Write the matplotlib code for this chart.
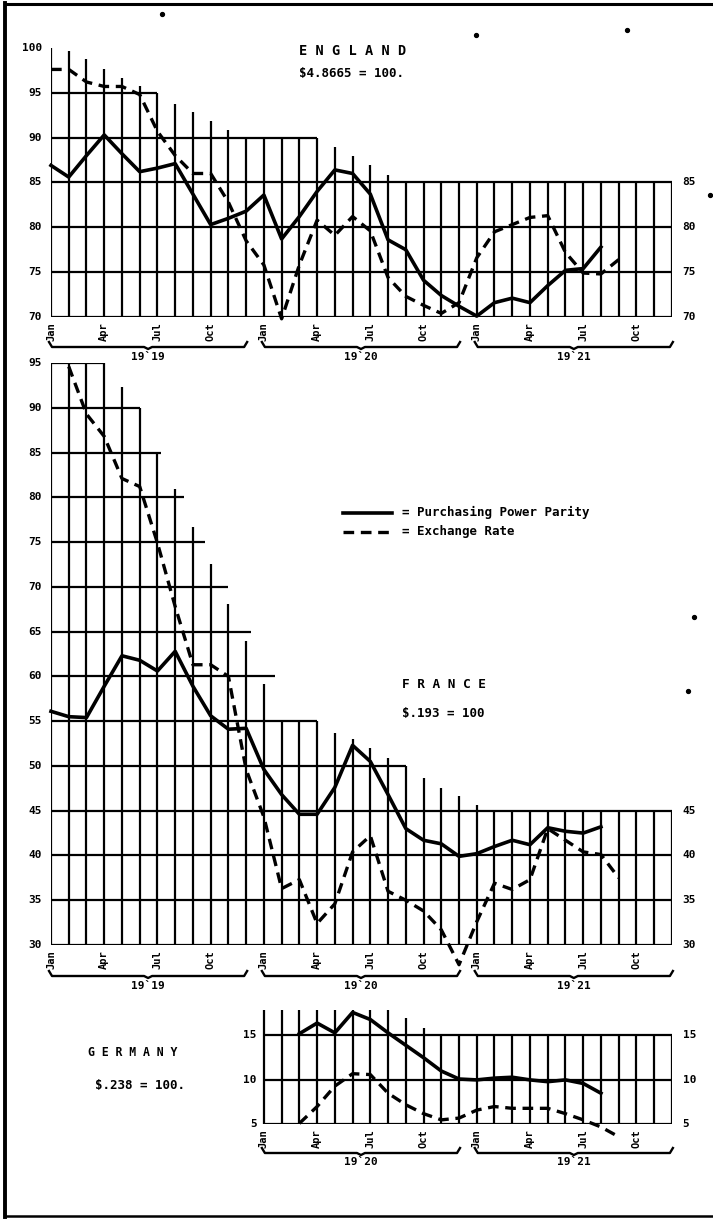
import matplotlib
matplotlib.use("Agg")
import matplotlib.pyplot as plt
from matplotlib.lines import Line2D
from matplotlib import transforms

# ---------------- data (month index 0 = Jan 1919 ... 35 = Dec 1921) ----------------
quarter_labels = ["Jan", "Apr", "Jul", "Oct"]
years = ["19`19", "19`20", "19`21"]

eng_title = "E N G L A N D"
eng_par = "\\$4.8665 = 100."
eng_ppp_start = 0
eng_ppp = [86.9, 85.6, 88.0, 90.3, 88.2, 86.2, 86.6, 87.1, 83.7, 80.3, 81.0, 81.8,
           83.6, 78.7, 81.2, 84.0, 86.4, 86.0, 83.7, 78.6, 77.5, 74.1, 72.4, 71.2,
           70.1, 71.6, 72.1, 71.6, 73.5, 75.2, 75.4, 77.8]
eng_exch_start = 0
eng_exch = [97.6, 97.6, 96.2, 95.7, 95.7, 94.8, 90.7, 88.0, 86.0, 86.0, 82.8, 78.5,
            75.8, 69.8, 75.8, 80.8, 79.1, 81.2, 79.6, 74.4, 72.3, 71.3, 70.4, 71.6,
            76.6, 79.5, 80.3, 81.1, 81.3, 77.2, 74.9, 74.8, 76.4]
eng_left_ticks = [100, 95, 90, 85, 80, 75, 70]
eng_right_ticks = [85, 80, 75, 70]

fra_title = "F R A N C E"
fra_par = "\\$.193 = 100"
fra_ppp_start = 0
fra_ppp = [56.1, 55.5, 55.4, 58.9, 62.3, 61.8, 60.6, 62.8, 58.9, 55.6, 54.1, 54.2,
           49.6, 46.8, 44.6, 44.6, 47.6, 52.3, 50.5, 46.8, 43.0, 41.7, 41.3, 39.9,
           40.2, 41.0, 41.7, 41.2, 43.1, 42.7, 42.5, 43.2]
fra_exch_start = 1
fra_exch = [94.6, 89.3, 86.8, 82.1, 81.2, 74.9, 67.8, 61.3, 61.3, 60.0, 49.6,
            44.3, 36.3, 37.3, 32.4, 34.6, 40.4, 42.2, 36.0, 35.0, 33.8, 31.7, 27.8,
            32.6, 36.9, 36.2, 37.3, 43.0, 41.7, 40.4, 40.1, 37.5]
fra_left_ticks = [95, 90, 85, 80, 75, 70, 65, 60, 55, 50, 45, 40, 35, 30]
fra_right_ticks = [45, 40, 35, 30]

ger_title = "G E R M A N Y"
ger_par = "\\$.238 = 100."
ger_ppp_start = 14
ger_ppp = [15.2, 16.4, 15.3, 17.6, 16.8, 15.3, 13.9, 12.5, 11.0, 10.1,
           10.0, 10.2, 10.3, 10.0, 9.8, 10.0, 9.6, 8.5]
ger_exch_start = 14
ger_exch = [5.1, 7.0, 9.3, 10.7, 10.6, 8.5, 7.2, 6.2, 5.5, 5.7,
            6.6, 7.0, 6.8, 6.8, 6.8, 6.2, 5.5, 4.7, 3.6]
ger_left_ticks = [15, 10, 5]
ger_right_ticks = [15, 10, 5]

legend_ppp = "= Purchasing Power Parity"
legend_exch = "= Exchange Rate"

# ---------------- layout / style (hand-drafted grid) ----------------
W, H = 713, 1220
X0, DX = 51.0, 17.74

eng_vtops = [100, 99.6, 98.8, 97.7, 96.7, 95.8, 95, 93.8, 92.9, 91.8, 90.9, 90,
             90, 90, 90, 90, 88.9, 88.0, 86.9, 85.8] + [85] * 16
eng_hl = [(95, 0, 6), (90, 0, 15), (85, 0, 35), (80, 0, 35), (75, 0, 35), (70, 0, 35)]

fra_vtops = [95, 95, 95, 95, 92.3, 90, 85, 80.9, 76.7, 72.5, 68.1, 63.9,
             59.1, 55, 55, 55, 53.7, 53.0, 52.0, 50.9, 50, 48.6, 47.5, 46.6,
             45.6] + [45] * 11
fra_hl = [(95, 0, 3), (90, 0, 5), (85, 0, 6.2), (80, 0, 7.5), (75, 0, 8.7),
          (70, 0, 10.0), (65, 0, 11.3), (60, 0, 12.6), (55, 0, 15), (50, 0, 20),
          (45, 0, 35), (40, 0, 35), (35, 0, 35), (30, 0, 35)]

ger_vtops = [17.9] * 8 + [17.0, 15.8] + [15] * 14
ger_hl = [(15, 12, 35), (10, 12, 35), (5, 12, 35)]

FONT = "DejaVu Sans Mono"
lab = dict(family=FONT, weight="bold", fontsize=8, color="black")
GRID_LW = 1.6
SOLID = dict(color="black", lw=2.6, solid_joinstyle="round", clip_on=False, zorder=3)
DASH = dict(color="black", lw=2.4, ls=(0, (3.2, 2.0)), dash_capstyle="butt",
            clip_on=False, zorder=3)

fig = plt.figure(figsize=(W / 100, H / 100), dpi=100)
fig.patch.set_facecolor("white")


def px_x(m):
    return X0 + m * DX


def fline(xs, ys, **kw):
    fig.add_artist(Line2D([x / W for x in xs], [1 - y / H for y in ys],
                          transform=fig.transFigure, color="black", **kw))


def ftext(x, y, s, **kw):
    fig.text(x / W, 1 - y / H, s, **kw)


def panel(top_px, bot_px, ylo, yhi):
    ax = fig.add_axes([X0 / W, 1 - bot_px / H, 35 * DX / W, (bot_px - top_px) / H])
    ax.set_xlim(0, 35)
    ax.set_ylim(ylo, yhi)
    ax.axis("off")
    return ax


def draw_grid(ax, first, vtops, hl, ylo):
    ms = list(range(first, first + len(vtops)))
    ax.vlines(ms, ylo, vtops, colors="black", lw=GRID_LW, zorder=1)
    for v, a, b in hl:
        ax.hlines(v, a, b, colors="black", lw=GRID_LW, zorder=1)


def month_labels(ax, first, ylo):
    off = transforms.offset_copy(ax.transData, fig=fig, x=0, y=-5, units="dots")
    for m in range(first, 36, 3):
        ax.text(m, ylo, quarter_labels[(m % 12) // 3], rotation=90, ha="center",
                va="top", transform=off, family=FONT, weight="bold", fontsize=7.5)


def braces(first_year, ybr, ytxt):
    for i in range(first_year, 3):
        x0 = px_x(12 * i) - 2
        x1 = px_x(12 * i + 11) + 1
        xc = (x0 + x1) / 2
        fline([x0, x0 + 3, xc - 4, xc, xc + 4, x1 - 3, x1],
              [ybr - 5, ybr, ybr, ybr + 2, ybr, ybr, ybr - 5], lw=1.7)
        ftext(xc, ytxt, years[i], ha="center", va="center", family=FONT,
              weight="bold", fontsize=8)


def series(ax, start, vals, style):
    ax.plot(list(range(start, start + len(vals))), vals, **style)


# ---------------- England ----------------
ax_e = panel(317 - 30 * 8.97, 317, 70, 100)
draw_grid(ax_e, 0, eng_vtops, eng_hl, 70)
series(ax_e, eng_ppp_start, eng_ppp, SOLID)
series(ax_e, eng_exch_start, eng_exch, DASH)
for v in eng_left_ticks:
    ax_e.text(-0.5, v, str(v), ha="right", va="center", **lab)
for v in eng_right_ticks:
    ax_e.text(35.6, v, str(v), ha="left", va="center", **lab)
month_labels(ax_e, 0, 70)
braces(0, 347, 357)
ftext(299, 51, eng_title, ha="left", va="center", family=FONT, weight="bold", fontsize=9.8)
ftext(299, 74, eng_par, ha="left", va="center", family=FONT, weight="bold", fontsize=9)

# ---------------- France ----------------
ax_f = panel(363, 945, 30, 95)
draw_grid(ax_f, 0, fra_vtops, fra_hl, 30)
series(ax_f, fra_ppp_start, fra_ppp, SOLID)
series(ax_f, fra_exch_start, fra_exch, DASH)
for v in fra_left_ticks:
    ax_f.text(-0.5, v, str(v), ha="right", va="center", **lab)
for v in fra_right_ticks:
    ax_f.text(35.6, v, str(v), ha="left", va="center", **lab)
month_labels(ax_f, 0, 30)
braces(0, 976, 986)
ftext(402, 684, fra_title, ha="left", va="center", family=FONT, weight="bold", fontsize=9.2)
ftext(402, 713, fra_par, ha="left", va="center", family=FONT, weight="bold", fontsize=9)

# legend
fline([343, 392], [512.5, 512.5], lw=2.6)
fig.add_artist(Line2D([343 / W, 392 / W], [1 - 532 / H, 1 - 532 / H], transform=fig.transFigure,
                      color="black", lw=2.4, ls=(0, (3.2, 2.0))))
ftext(402, 512.5, legend_ppp, ha="left", va="center", family=FONT, weight="bold", fontsize=9)
ftext(402, 532, legend_exch, ha="left", va="center", family=FONT, weight="bold", fontsize=9)

# ---------------- Germany ----------------
ax_g = panel(1124.3 - 13.5 * 8.88, 1124.3, 5, 18.5)
draw_grid(ax_g, 12, ger_vtops, ger_hl, 5)
series(ax_g, ger_ppp_start, ger_ppp, SOLID)
series(ax_g, ger_exch_start, ger_exch, DASH)
for v in ger_left_ticks:
    ax_g.text(11.6, v, str(v), ha="right", va="center", **lab)
for v in ger_right_ticks:
    ax_g.text(35.6, v, str(v), ha="left", va="center", **lab)
month_labels(ax_g, 12, 5)
braces(1, 1153, 1162)
ftext(88, 1052, ger_title, ha="left", va="center", family=FONT, weight="bold", fontsize=8.3)
ftext(95, 1085, ger_par, ha="left", va="center", family=FONT, weight="bold", fontsize=9)

# ---------------- page frame and scan specks ----------------
fline([5, 5], [3, 1217], lw=2.8)
fline([5, 713], [3.5, 3.5], lw=2.2)
fline([5, 713], [1216, 1216], lw=1.8)
for (sx, sy) in [(162, 14), (476, 35), (627, 30), (710, 195), (694, 617), (688, 691)]:
    fline([sx], [sy], marker="o", markersize=2.8, lw=0)

fig.savefig("out.png", dpi=100, facecolor="white")
